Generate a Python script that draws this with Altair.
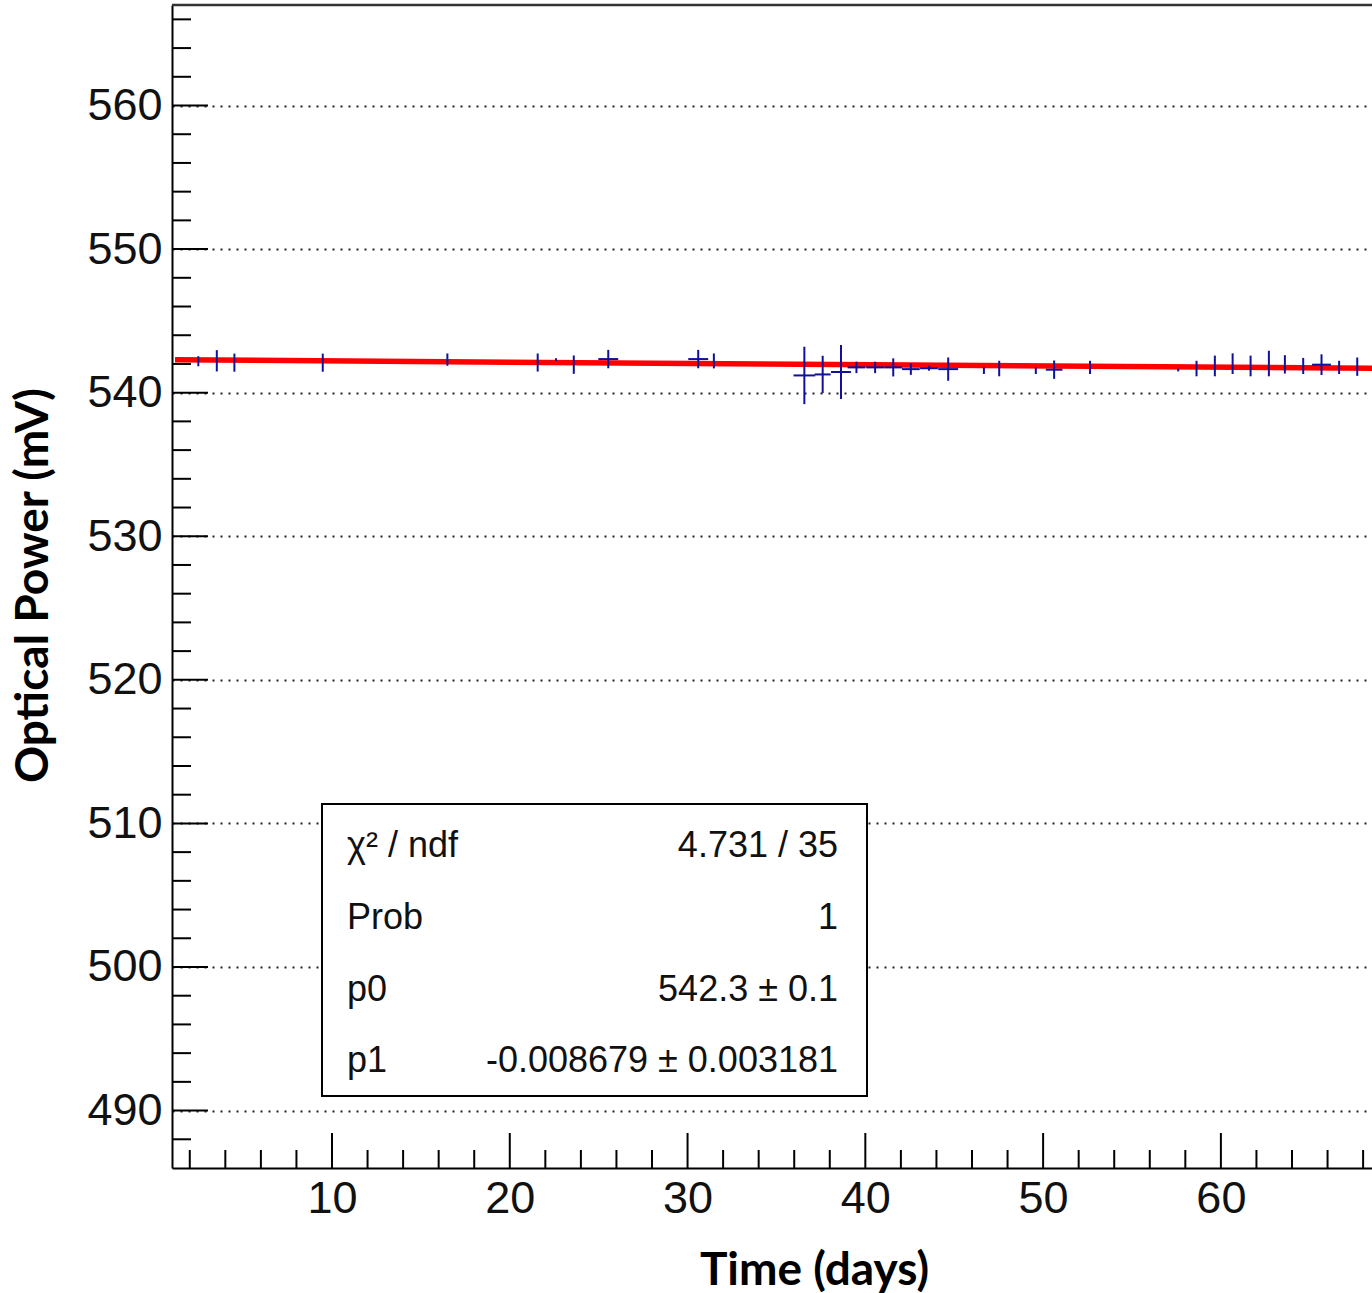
import altair as alt
import pandas as pd

# ---- data ----
time_days = [2.48, 3.52, 4.51, 9.48, 16.49, 21.57, 22.6, 23.6, 25.54, 30.6, 31.48,
             36.57, 37.6, 38.63, 39.5, 40.55, 41.57, 42.56, 43.58, 44.66,
             46.67, 47.53, 49.59, 50.62, 52.64,
             57.6, 58.63, 59.66, 60.66, 61.67, 62.7, 63.6, 64.63, 65.66, 66.65, 67.67]
power_mv = [542.19, 542.22, 542.09, 542.09, 542.3, 542.1, 542.3, 541.95, 542.34, 542.34, 542.21,
            541.2, 541.27, 541.44, 541.76, 541.76, 541.76, 541.64, 541.7, 541.64,
            541.53, 541.68, 541.53, 541.6, 541.76,
            541.58, 541.68, 541.86, 542.02, 541.86, 542.03, 541.97, 541.86, 541.95, 541.76, 541.81]
power_err = [0.35, 0.74, 0.63, 0.63, 0.43, 0.63, 0.1, 0.64, 0.64, 0.64, 0.52,
             2.0, 1.3, 1.88, 0.4, 0.4, 0.63, 0.4, 0.17, 0.81,
             0.23, 0.54, 0.23, 0.64, 0.46,
             0.1, 0.54, 0.72, 0.72, 0.72, 0.89, 0.64, 0.56, 0.72, 0.46, 0.64]
time_err = [0, 0, 0, 0, 0, 0, 0, 0, 0.56, 0.56, 0,
            0.61, 0.45, 0.56, 0.5, 0.5, 0.5, 0.5, 0.5, 0.56,
            0, 0, 0, 0.47, 0,
            0, 0, 0, 0, 0, 0, 0, 0, 0.53, 0, 0]

fit_time = [1.17, 70.0]
fit_power = [542.29, 541.69]

x_major = [10, 20, 30, 40, 50, 60]
x_minor = [2, 4, 6, 8, 12, 14, 16, 18, 22, 24, 26, 28, 32, 34, 36, 38,
           42, 44, 46, 48, 52, 54, 56, 58, 62, 64, 66, 68]
y_major = [490, 500, 510, 520, 530, 540, 550, 560]
y_minor = [488, 492, 494, 496, 498, 502, 504, 506, 508, 512, 514, 516, 518,
           522, 524, 526, 528, 532, 534, 536, 538, 542, 544, 546, 548,
           552, 554, 556, 558, 562, 564, 566]

stat_names = ["χ² / ndf", "Prob", "p0", "p1"]
stat_values = ["4.731 / 35", "1", "542.3 ± 0.1", "-0.008679 ± 0.003181"]

# ---- layout ----
W, H = 1200, 1163
X_DOMAIN = [1.0, 68.5]
Y_DOMAIN = [486.0, 567.0]
BLUE = "#10109a"
FONT = "Liberation Sans"
TITLE_FONT = "Lato"

xs = alt.Scale(domain=X_DOMAIN, nice=False, zero=False)
ys = alt.Scale(domain=Y_DOMAIN, nice=False, zero=False)

pts = pd.DataFrame({"t": time_days, "p": power_mv, "ep": power_err, "et": time_err})
fit = pd.DataFrame({"t": fit_time, "p": fit_power})

x_axis = alt.Axis(values=x_major, ticks=False, grid=False, domainColor="black", domainWidth=2,
                  labelFont=FONT, labelFontSize=45, labelColor="#111111", labelPadding=8,
                  title="Time (days)", titleFont=TITLE_FONT, titleFontSize=46,
                  titleFontWeight="bold", titleColor="black", titleX=642, titleY=102,
                  titleAlign="center", titleBaseline="middle")
y_axis = alt.Axis(values=y_major, ticks=False, grid=True, gridDash=[2, 6], gridColor="#222222",
                  gridWidth=1.8, domainColor="black", domainWidth=2,
                  labelFont=FONT, labelFontSize=45, labelColor="#111111", labelPadding=10,
                  title="Optical Power (mV)", titleFont=TITLE_FONT, titleFontSize=46,
                  titleFontWeight="bold", titleColor="black", titleX=-139, titleY=580,
                  titleAngle=270, titleAlign="center", titleBaseline="middle")

fit_line = alt.Chart(fit).mark_line(color="#ff0000", strokeWidth=5.5, clip=True).encode(
    x=alt.X("t:Q", scale=xs, axis=x_axis),
    y=alt.Y("p:Q", scale=ys, axis=y_axis),
)

yerr = alt.Chart(pts).transform_calculate(
    lo="datum.p - max(datum.ep, 0.08)", hi="datum.p + max(datum.ep, 0.08)"
).mark_rule(color=BLUE, strokeWidth=2).encode(
    x=alt.X("t:Q", scale=xs, axis=x_axis),
    y=alt.Y("lo:Q", scale=ys, axis=y_axis),
    y2="hi:Q",
)

xerr = alt.Chart(pts).transform_filter("datum.et > 0").transform_calculate(
    lo="datum.t - datum.et", hi="datum.t + datum.et"
).mark_rule(color=BLUE, strokeWidth=2).encode(
    x=alt.X("lo:Q", scale=xs, axis=x_axis),
    x2="hi:Q",
    y=alt.Y("p:Q", scale=ys, axis=y_axis),
)

def xticks(vals, length):
    return alt.Chart(pd.DataFrame({"v": vals})).mark_rule(color="black", strokeWidth=2).encode(
        x=alt.X("v:Q", scale=xs, axis=x_axis), y=alt.value(H), y2=alt.value(H - length))

def yticks(vals, length):
    return alt.Chart(pd.DataFrame({"v": vals})).mark_rule(color="black", strokeWidth=2).encode(
        y=alt.Y("v:Q", scale=ys, axis=y_axis), x=alt.value(0), x2=alt.value(length))

top_border = alt.Chart(pd.DataFrame({"a": [0]})).mark_rule(color="#333333", strokeWidth=2.5).encode(
    x=alt.value(0), x2=alt.value(W), y=alt.value(0))

box = alt.Chart(pd.DataFrame({"a": [0]})).mark_rect(
    fill="white", stroke="black", strokeWidth=2).encode(
    x=alt.value(150), x2=alt.value(695), y=alt.value(799), y2=alt.value(1091))

stats = pd.DataFrame({"row": list(range(len(stat_names))), "name": stat_names, "val": stat_values})
row_y = [852, 924, 996, 1067]
texts = []
for i, yy in enumerate(row_y):
    base = alt.Chart(stats).transform_filter(f"datum.row == {i}")
    texts.append(base.mark_text(font=FONT, fontSize=36, color="#111111", align="left",
                                baseline="alphabetic").encode(
        text="name:N", x=alt.value(175), y=alt.value(yy)))
    texts.append(base.mark_text(font=FONT, fontSize=36, color="#111111", align="right",
                                baseline="alphabetic").encode(
        text="val:N", x=alt.value(666), y=alt.value(yy)))

chart = alt.layer(
    fit_line, yerr, xerr,
    xticks(x_major, 35), xticks(x_minor, 18),
    yticks(y_major, 36), yticks(y_minor, 19),
    top_border, box, *texts,
).properties(
    width=W, height=H,
    autosize="none",
    padding={"left": 172, "top": 5, "right": 0, "bottom": 125},
    background="white",
).configure_view(stroke=None)

chart.save("out.html", embed_options={"renderer": "svg", "actions": False})
